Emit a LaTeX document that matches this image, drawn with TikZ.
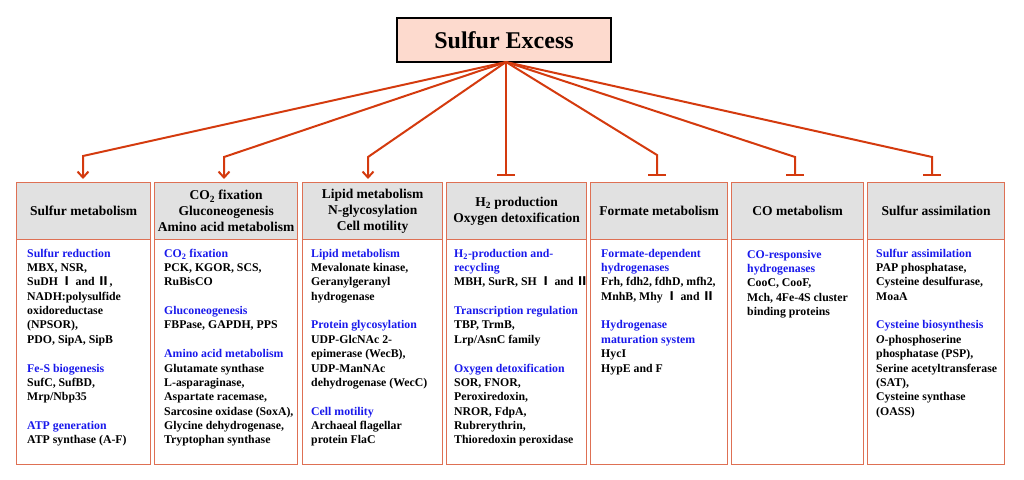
\documentclass[tikz,border=0pt]{standalone}
\usepackage{fontspec}
\setmainfont{Liberation Serif}
\newfontfamily\cjk{Noto Sans CJK SC}
\usetikzlibrary{arrows.meta}
\definecolor{lineR}{RGB}{212,58,14}
\definecolor{boxR}{RGB}{222,112,84}
\definecolor{hdrG}{RGB}{225,225,225}
\definecolor{ttlF}{RGB}{253,218,206}
\definecolor{sblue}{RGB}{25,25,235}
\newcommand\hd[1]{\textcolor{sblue}{#1}}
\newcommand\rI{{\cjk Ⅰ}}
\newcommand\rII{{\cjk Ⅱ}}
\newcommand\fl{\rule{0pt}{10pt}}
\begin{document}
\begin{tikzpicture}[x=1pt,y=-1pt,
  ttl/.style={draw=black,line width=1.2pt,fill=ttlF,minimum width=214pt,minimum height=44pt,
    font=\bfseries\fontsize{24}{28}\selectfont,inner sep=0pt},
  colbox/.style={draw=boxR,line width=1.3pt,minimum height=282pt,anchor=north west,inner sep=0pt},
  hdr/.style={draw=boxR,line width=1.3pt,fill=hdrG,minimum height=57pt,anchor=north west,
    align=center,inner sep=0pt,font=\bfseries\fontsize{13.5}{16}\selectfont},
  bodytxt/.style={anchor=north west,align=left,inner sep=0pt,font=\bfseries\fontsize{11.8}{14.35}\selectfont},
  act/.style={draw=lineR,line width=2pt,-{Straight Barb[length=6pt,width=11pt]},shorten >=3pt},
  inh/.style={draw=lineR,line width=2pt,-{Bar[width=18pt]},shorten >=6pt}
]
\useasboundingbox (0,0) rectangle (1024,479);

% title
\node[ttl] (top) at (504,40) {Sulfur Excess};
\coordinate (apex) at (506,62);

% columns
\node[colbox,minimum width=134pt] (c1) at (16,182) {};
\node[colbox,minimum width=143pt] (c2) at (154,182) {};
\node[colbox,minimum width=140pt] (c3) at (302,182) {};
\node[colbox,minimum width=140pt] (c4) at (446,182) {};
\node[colbox,minimum width=137pt] (c5) at (590,182) {};
\node[colbox,minimum width=132pt] (c6) at (731,182) {};
\node[colbox,minimum width=137pt] (c7) at (867,182) {};

\node[hdr,minimum width=134pt] (h1) at (16,182) {Sulfur metabolism};
\node[hdr,minimum width=143pt] (h2) at (154,182) {CO\textsubscript{2} fixation\\Gluconeogenesis\\Amino acid metabolism};
\node[hdr,minimum width=140pt] (h3) at (302,182) {Lipid metabolism\\N-glycosylation\\Cell motility};
\node[hdr,minimum width=140pt] (h4) at (446,182) {H\textsubscript{2} production\\Oxygen detoxification};
\node[hdr,minimum width=137pt] (h5) at (590,182) {Formate metabolism};
\node[hdr,minimum width=132pt] (h6) at (731,182) {CO metabolism};
\node[hdr,minimum width=137pt] (h7) at (867,182) {Sulfur assimilation};

% body texts
\node[bodytxt] (t1) at (27,247) {\fl\hd{Sulfur reduction}\\
MBX, NSR,\\
SuDH \rI\ and \rII,\\
NADH:polysulfide\\
oxidoreductase\\
(NPSOR),\\
PDO, SipA, SipB\\[14.35pt]
\hd{Fe-S biogenesis}\\
SufC, SufBD,\\
Mrp/Nbp35\\[14.35pt]
\hd{ATP generation}\\
ATP synthase (A-F)};

\node[bodytxt] (t2) at (164,247) {\fl\hd{CO\textsubscript{2} fixation}\\
PCK, KGOR, SCS,\\
RuBisCO\\[14.35pt]
\hd{Gluconeogenesis}\\
FBPase, GAPDH, PPS\\[14.35pt]
\hd{Amino acid metabolism}\\
Glutamate synthase\\
L-asparaginase,\\
Aspartate racemase,\\
Sarcosine oxidase (SoxA),\\
Glycine dehydrogenase,\\
Tryptophan synthase};

\node[bodytxt] (t3) at (311,247) {\fl\hd{Lipid metabolism}\\
Mevalonate kinase,\\
Geranylgeranyl\\
hydrogenase\\[14.35pt]
\hd{Protein glycosylation}\\
UDP-GlcNAc 2-\\
epimerase (WecB),\\
UDP-ManNAc\\
dehydrogenase (WecC)\\[14.35pt]
\hd{Cell motility}\\
Archaeal flagellar\\
protein FlaC};

\node[bodytxt] (t4) at (454,247) {\fl\hd{H\textsubscript{2}-production and-}\\
\hd{recycling}\\
MBH, SurR, SH \rI\ and \rII\\[14.35pt]
\hd{Transcription regulation}\\
TBP, TrmB,\\
Lrp/AsnC family\\[14.35pt]
\hd{Oxygen detoxification}\\
SOR, FNOR,\\
Peroxiredoxin,\\
NROR, FdpA,\\
Rubrerythrin,\\
Thioredoxin peroxidase};

\node[bodytxt] (t5) at (601,247) {\fl\hd{Formate-dependent}\\
\hd{hydrogenases}\\
Frh, fdh2, fdhD, mfh2,\\
MnhB, Mhy \rI\ and \rII\\[14.35pt]
\hd{Hydrogenase}\\
\hd{maturation system}\\
HycI\\
HypE and F};

\node[bodytxt] (t6) at (747,248) {\fl\hd{CO-responsive}\\
\hd{hydrogenases}\\
CooC, CooF,\\
Mch, 4Fe-4S cluster\\
binding proteins};

\node[bodytxt] (t7) at (876,247) {\fl\hd{Sulfur assimilation}\\
PAP phosphatase,\\
Cysteine desulfurase,\\
MoaA\\[14.35pt]
\hd{Cysteine biosynthesis}\\
\textit{O}-phosphoserine\\
phosphatase (PSP),\\
Serine acetyltransferase\\
(SAT),\\
Cysteine synthase\\
(OASS)};

% connectors
\coordinate (e1) at (83,156);
\coordinate (e2) at (224,157);
\coordinate (e3) at (368,157);
\coordinate (e5) at (657,155);
\coordinate (e6) at (795,157);
\coordinate (e7) at (932,157);

\draw[act] (apex) -- (e1) -- (e1 |- h1.north);
\draw[act] (apex) -- (e2) -- (e2 |- h2.north);
\draw[act] (apex) -- (e3) -- (e3 |- h3.north);
\draw[inh] (apex) -- (apex |- h4.north);
\draw[inh] (apex) -- (e5) -- (e5 |- h5.north);
\draw[inh] (apex) -- (e6) -- (e6 |- h6.north);
\draw[inh] (apex) -- (e7) -- (e7 |- h7.north);
\end{tikzpicture}
\end{document}
